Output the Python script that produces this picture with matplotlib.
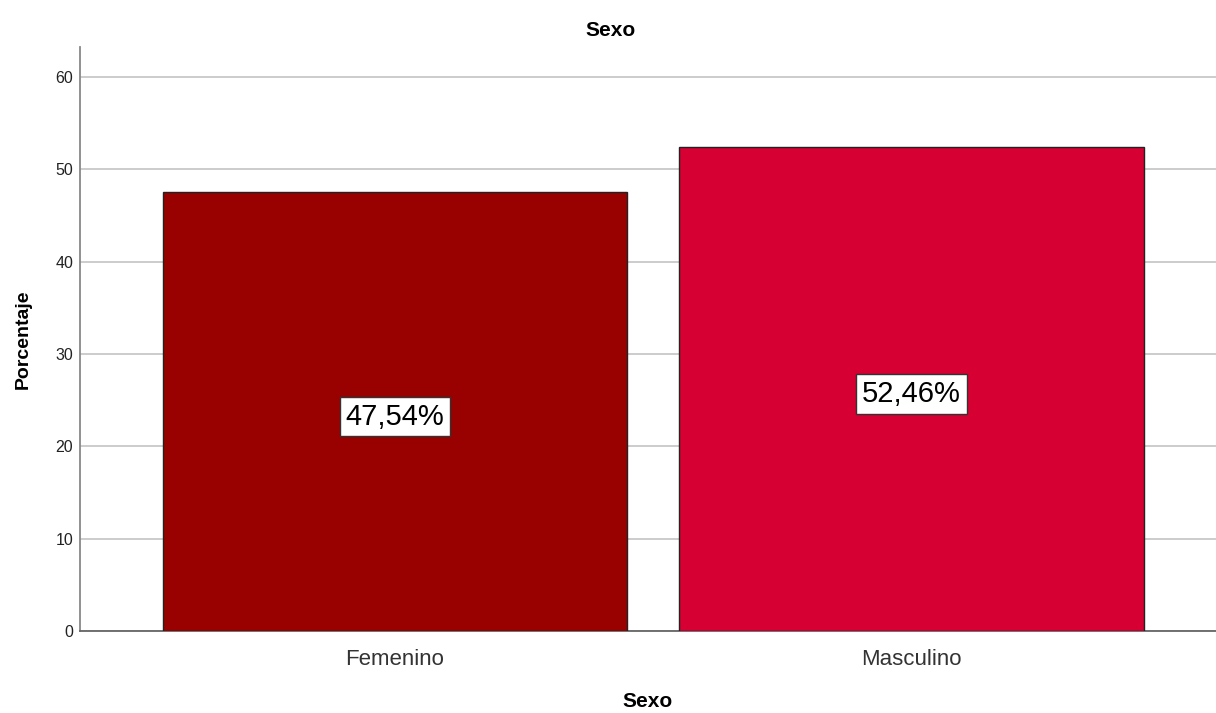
import matplotlib
matplotlib.use("Agg")
import matplotlib.pyplot as plt

categories = ["Femenino", "Masculino"]
values = [47.54, 52.46]
labels = ["47,54%", "52,46%"]
colors = ["#990000", "#D70032"]
yticks = [0, 10, 20, 30, 40, 50, 60]

plt.rcParams['font.family'] = ['Liberation Sans', 'DejaVu Sans']

fig = plt.figure(figsize=(12.16, 7.13), dpi=100)
ax = fig.add_axes([80/1216, (713-631)/713, 1 - 80/1216, (631-47)/713])

x = list(range(len(categories)))
ax.bar(x, values, width=0.9, color=colors, edgecolor="#222222", linewidth=1, zorder=3)
ax.set_xlim(-0.61, 1.59)
ax.set_ylim(0, 63.25)
ax.set_yticks(yticks)
ax.set_xticks(x)
ax.set_xticklabels(categories, fontsize=16, color="#333333")
ax.tick_params(axis='y', labelsize=11.5, length=0, pad=5, labelcolor="#222222")
ax.tick_params(axis='x', length=0, pad=13)
ax.grid(axis='y', color="#c8c8c8", linewidth=1.3, zorder=0)
for s in ["top", "right"]:
    ax.spines[s].set_visible(False)
ax.spines["left"].set_color("#888888")
ax.spines["bottom"].set_color("#666666")
ax.spines["left"].set_linewidth(1.3)
ax.spines["bottom"].set_linewidth(1.3)

for xi, v, lab in zip(x, values, labels):
    ax.text(xi, v/2 - 0.55, lab, ha='center', va='center', fontsize=21, zorder=5,
            bbox=dict(boxstyle='square,pad=0.2', facecolor='white', edgecolor='#333333', linewidth=1))

ax.set_xlabel("Sexo", fontsize=15, fontweight='bold', labelpad=16)
ax.set_ylabel("Porcentaje", fontsize=14, fontweight='bold', labelpad=17)
fig.text(611/1216, 1 - 31/713, "Sexo", ha='center', va='center', fontsize=15, fontweight='bold')

fig.savefig("out.png", dpi=100)
